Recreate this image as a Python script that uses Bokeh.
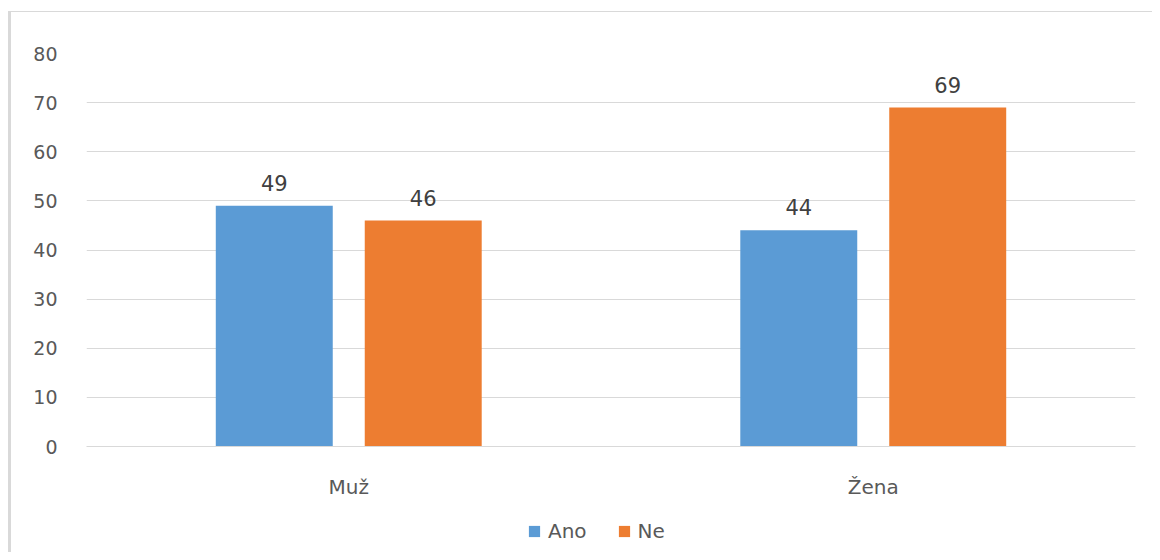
from bokeh.plotting import figure
from bokeh.models import FactorRange, ColumnDataSource, Range1d, LabelSet, Legend, LegendItem
from bokeh.layouts import column
from bokeh.transform import dodge
from bokeh.core.properties import value
from bokeh.embed import file_html
from bokeh.resources import INLINE

categories = ["Muž", "Žena"]
series_names = ["Ano", "Ne"]
ano = [49, 44]
ne = [46, 69]
colors = ["#5b9bd5", "#ed7d31"]
y_ticks = [0, 10, 20, 30, 40, 50, 60, 70, 80]

src = ColumnDataSource(dict(cat=categories, ano=ano, ne=ne,
                            ano_s=[str(v) for v in ano], ne_s=[str(v) for v in ne]))

FONT = "DejaVu Sans"
p = figure(x_range=FactorRange(*categories, range_padding=0), y_range=Range1d(0, 80),
           width=1141, height=490, output_backend="svg", toolbar_location=None,
           min_border_left=75, min_border_right=17, min_border_top=41, min_border_bottom=56)
p.outline_line_color = None
p.background_fill_color = "white"
p.border_fill_color = "white"

w = 0.223
off = 0.142
r1 = p.vbar(x=dodge("cat", -off, range=p.x_range), top="ano", width=w, source=src,
            color=colors[0], line_color=None)
r2 = p.vbar(x=dodge("cat", off, range=p.x_range), top="ne", width=w, source=src,
            color=colors[1], line_color=None)

for col, o in (("ano", -off), ("ne", off)):
    lab = LabelSet(x=dodge("cat", o, range=p.x_range), y=col, text=col + "_s", source=src,
                   text_align="center", text_baseline="middle", y_offset=23,
                   text_font=value(FONT), text_font_size=value("21px"), text_color="#404040")
    p.add_layout(lab)

p.yaxis.ticker = y_ticks
p.ygrid.grid_line_color = "#d9d9d9"
p.ygrid.grid_line_width = 1
p.xgrid.grid_line_color = None
p.yaxis.axis_line_color = None
p.yaxis.major_tick_line_color = None
p.yaxis.minor_tick_line_color = None
p.yaxis.major_label_standoff = 23
p.yaxis.major_label_text_font = FONT
p.yaxis.major_label_text_font_size = "19px"
p.yaxis.major_label_text_color = "#595959"

p.xaxis.axis_line_color = "#d9d9d9"
p.xaxis.major_tick_line_color = None
p.xaxis.minor_tick_line_color = None
p.xaxis.major_label_standoff = 22
p.xaxis.major_label_text_font = FONT
p.xaxis.major_label_text_font_size = "20px"
p.xaxis.major_label_text_color = "#595959"

# legend strip below the chart (stand-in renderers lie outside its visible range)
lg = figure(x_range=Range1d(0, 1), y_range=Range1d(0, 1), width=1141, height=50,
            output_backend="svg", toolbar_location=None, x_axis_type=None, y_axis_type=None,
            min_border_left=0, min_border_right=0, min_border_top=0, min_border_bottom=0)
lg.outline_line_color = None
lg.xgrid.grid_line_color = None
lg.ygrid.grid_line_color = None
proxy = ColumnDataSource(dict(x=[-10], top=[-10]))
d1 = lg.vbar(x="x", top="top", width=0.1, source=proxy, color=colors[0], line_color=None)
d2 = lg.vbar(x="x", top="top", width=0.1, source=proxy, color=colors[1], line_color=None)

legend = Legend(items=[LegendItem(label=series_names[0], renderers=[d1]),
                       LegendItem(label=series_names[1], renderers=[d2])],
                orientation="horizontal", location=(441, 9),
                label_text_font=FONT, label_text_font_size="20px", label_text_color="#595959",
                glyph_width=14, glyph_height=14, spacing=30, label_standoff=7,
                border_line_color=None, background_fill_alpha=0, padding=0, margin=0)
lg.add_layout(legend, "center")

layout = column(p, lg, spacing=0,
                styles={"border-top": "1px solid #d9d9d9", "border-left": "3px solid #d9d9d9",
                        "margin-top": "11px", "margin-left": "8px"})

open("out.html", "w").write(file_html(layout, INLINE))
